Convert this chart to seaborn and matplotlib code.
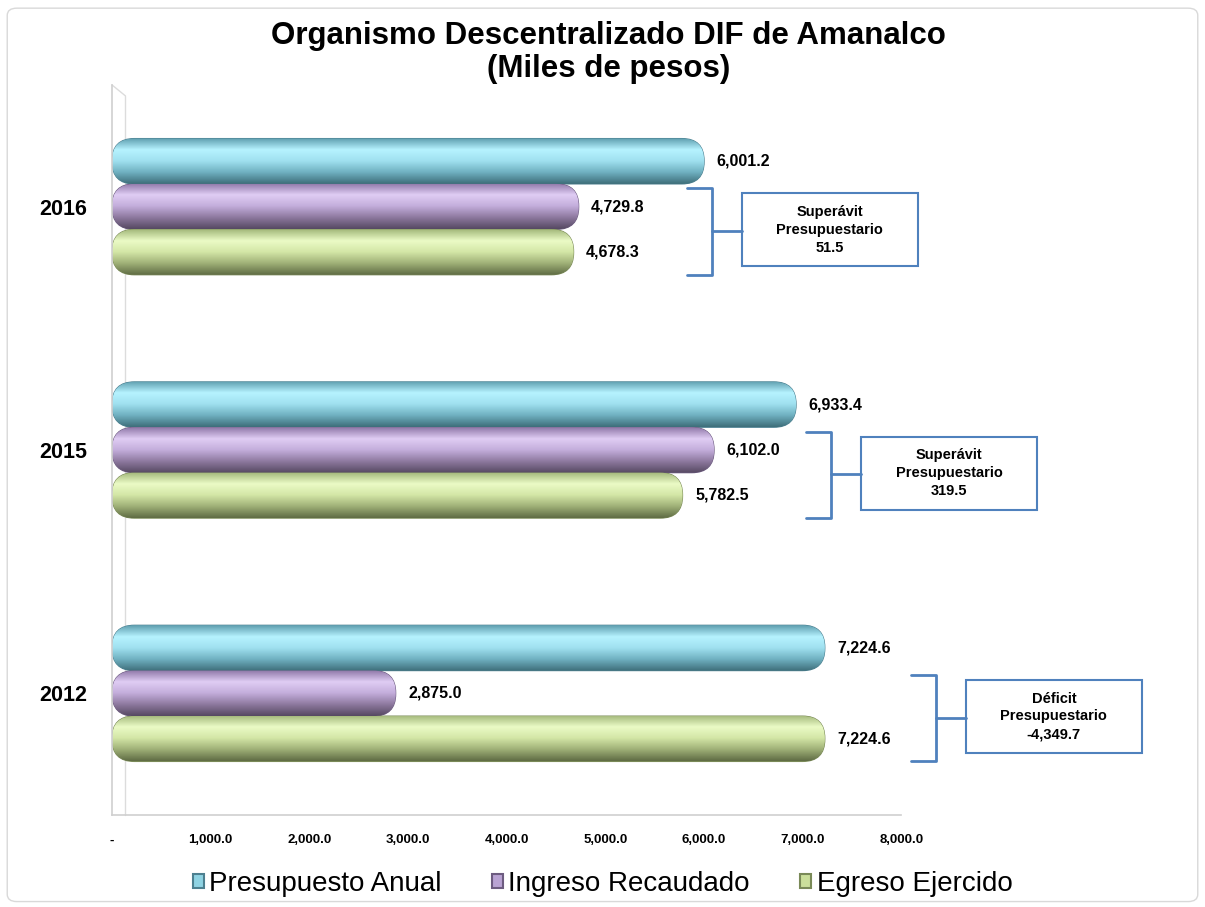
import numpy as np
import pandas as pd
import seaborn as sns
import matplotlib.pyplot as plt
from matplotlib.patches import FancyBboxPatch, Rectangle, Patch
from matplotlib.colors import LinearSegmentedColormap

# --- data ---
years = ['2016', '2015', '2012']
series = ['Presupuesto Anual', 'Ingreso Recaudado', 'Egreso Ejercido']
presupuesto = [6001.2, 6933.4, 7224.6]
ingreso = [4729.8, 6102.0, 2875.0]
egreso = [4678.3, 5782.5, 7224.6]
balance = [51.5, 319.5, -4349.7]
x_ticks = [0, 1000, 2000, 3000, 4000, 5000, 6000, 7000, 8000]
x_ticklabels = ['-', '1,000.0', '2,000.0', '3,000.0', '4,000.0',
                '5,000.0', '6,000.0', '7,000.0', '8,000.0']

# --- styling ---
base_colors = ['#8fd3e3', '#b9a3d3', '#cbdf9b']
shades = [
    ['#5f9fb0', '#b6f3ff', '#9fe0ef', '#6fb0c0', '#3f6f7b'],
    ['#8f78a8', '#e0cdf4', '#c3addb', '#8e799f', '#574a63'],
    ['#a3b87a', '#ebfbc6', '#d3e6a6', '#9fb077', '#606d45'],
]
edge_colors = ['#4d8090', '#6d5c80', '#7a8a58']
bracket_x = [6080, 7290, 8350]   # annotation layout (data x)
line_blue = '#4f81bd'

df = pd.DataFrame({'anio': years * 3,
                   'serie': np.repeat(series, len(years)),
                   'valor': presupuesto + ingreso + egreso})

sns.set_style('white')
plt.rcParams['font.family'] = ['Liberation Sans', 'DejaVu Sans']
plt.rcParams['text.color'] = 'black'
plt.rcParams['xtick.color'] = 'black'
plt.rcParams['ytick.color'] = 'black'

fig = plt.figure(figsize=(12.05, 9.07), dpi=100)
ax = fig.add_axes([0.093, 0.1014, 0.655, 0.8049])

sns.barplot(data=df, x='valor', y='anio', hue='serie', orient='h',
            order=years, hue_order=series, palette=base_colors,
            width=0.56, saturation=1, legend=False, ax=ax)

ax.set_xlim(0, 8000)
ax.set_ylim(2.5, -0.5)

# turn the flat bars into shaded cylinders
px_per_x = 0.655 * 1205 / 8000
px_per_y = 0.8049 * 907 / 3
for k, cont in enumerate(ax.containers):
    cmap = LinearSegmentedColormap.from_list('g%d' % k, shades[k])
    grad = np.linspace(0, 1, 64).reshape(-1, 1)
    for bar in cont:
        x0, y0 = bar.get_x(), bar.get_y()
        w, h = bar.get_width(), bar.get_height()
        bar.set_visible(False)
        r_x = (h / 2) * px_per_y / px_per_x
        aspect = (h / 2) / r_x
        fb = FancyBboxPatch((x0, y0), w, h,
                            boxstyle='round,pad=0,rounding_size=%f' % (r_x * 0.98),
                            mutation_aspect=aspect, facecolor=base_colors[k],
                            edgecolor=edge_colors[k], linewidth=0.8, zorder=2)
        ax.add_patch(fb)
        im = ax.imshow(grad, cmap=cmap, aspect='auto', origin='upper',
                       extent=(x0, x0 + w, y0 + h, y0), zorder=2.1)
        im.set_clip_path(fb)
        ax.annotate('{:,.1f}'.format(w), xy=(x0 + w, y0 + h / 2),
                    xytext=(9, 0), textcoords='offset points',
                    va='center', ha='left', fontsize=11.5, fontweight='bold',
                    zorder=4)

ax.set_xlim(0, 8000)
ax.set_ylim(2.5, -0.5)

# balance brackets and boxes
box_off = 30 / px_per_x
box_w = 176 / px_per_x
arm = 25 / px_per_x
for i, b in enumerate(balance):
    bx = bracket_x[i]
    ax.plot([bx - arm, bx, bx, bx - arm], [i - 0.075, i - 0.075, i + 0.28, i + 0.28],
            color=line_blue, lw=2, clip_on=False, zorder=3)
    ax.plot([bx, bx + box_off], [i + 0.1, i + 0.1], color=line_blue, lw=2,
            clip_on=False, zorder=3)
    ax.add_patch(Rectangle((bx + box_off, i - 0.055), box_w, 0.3, fill=False,
                           edgecolor=line_blue, lw=1.5, clip_on=False, zorder=3))
    kind = 'Superávit' if b > 0 else 'Déficit'
    ax.text(bx + box_off + box_w / 2, i + 0.095,
            '%s\nPresupuestario\n%s' % (kind, '{:,.1f}'.format(b)),
            ha='center', va='center', fontsize=10.5, fontweight='bold',
            linespacing=1.35, zorder=4)

# axes cosmetics
ax.set_xlabel('')
ax.set_ylabel('')
ax.set_xticks(x_ticks)
ax.set_xticklabels(x_ticklabels, fontsize=9.5, fontweight='bold')
ax.set_yticks(range(len(years)))
ax.set_yticklabels(years, fontsize=15.5, fontweight='bold')
ax.tick_params(axis='y', length=0, pad=18)
ax.tick_params(axis='x', length=4, color='#c8c8c8', pad=10, direction='out')
for s in ['top', 'right']:
    ax.spines[s].set_visible(False)
for s in ['left', 'bottom']:
    ax.spines[s].set_color('#cfcfcf')
    ax.spines[s].set_linewidth(1.2)
ax.plot([0.017, 0.017], [0.0, 0.985], transform=ax.transAxes, color='#dcdcdc',
        lw=1, clip_on=False, zorder=1)
ax.plot([0, 0.017], [1.0, 0.985], transform=ax.transAxes, color='#dcdcdc',
        lw=1, clip_on=False, zorder=1)

fig.text(0.505, 0.942, 'Organismo Descentralizado DIF de Amanalco\n(Miles de pesos)',
         ha='center', va='center', fontsize=22.5, fontweight='bold', linespacing=1.1)

handles = [Patch(facecolor=base_colors[k], edgecolor=edge_colors[k], lw=1.5)
           for k in range(3)]
fig.legend(handles, series, loc='lower center', bbox_to_anchor=(0.5, -0.016),
           ncol=3, frameon=False, fontsize=20, handlelength=0.4,
           handleheight=0.4, handletextpad=0.2, columnspacing=1.8)

fig.patches.append(FancyBboxPatch((0.006, 0.006), 0.988, 0.985,
                                  boxstyle='round,pad=0,rounding_size=0.008',
                                  transform=fig.transFigure, fill=False,
                                  edgecolor='#d9d9d9', lw=1))

fig.savefig('out.png', dpi=100, facecolor='white')
